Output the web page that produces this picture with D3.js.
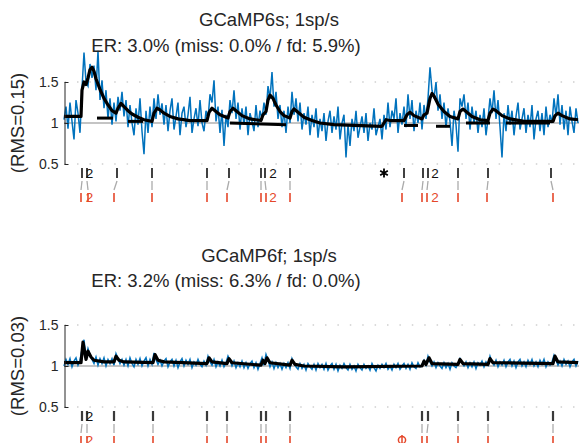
<!DOCTYPE html>
<html>
<head>
<meta charset="utf-8">
<script src="https://cdn.jsdelivr.net/npm/d3@7"></script>
<style>
  body { margin: 0; background: #fff; }
  text { font-family: "Liberation Sans", Arial, sans-serif; fill: #262626; }
</style>
</head>
<body>
<div id="chart"></div>
<script>
var width = 579, height = 443;

// frames (2 px each), 0..257
var traceS = [
  1.04, 1.20, 0.93, 1.25, 1.02, 0.80, 1.28, 1.12, 0.88, 1.42,
  1.86, 1.50, 1.45, 1.72, 1.55, 1.70, 1.40, 1.88, 1.28, 1.52,
  1.18, 1.40, 1.05, 1.30, 0.98, 1.25, 1.02, 1.32, 1.15, 1.38,
  1.08, 1.28, 0.95, 1.22, 1.00, 0.85, 1.18, 0.98, 1.30, 0.90,
  0.62, 1.15, 0.88, 1.20, 0.95, 1.30, 1.05, 1.35, 1.10, 1.24,
  0.98, 1.22, 0.90, 1.15, 1.30, 0.92, 1.08, 1.25, 0.85, 1.12,
  1.20, 0.95, 1.10, 1.32, 0.88, 1.05, 1.18, 0.96, 1.28, 1.00,
  0.90, 1.15, 1.05, 1.35, 1.25, 1.52, 1.02, 1.20, 0.88, 1.16,
  0.72, 1.10, 0.95, 1.28, 1.12, 1.40, 1.05, 1.25, 0.92, 1.18,
  0.98, 1.20, 0.85, 1.12, 1.02, 0.90, 1.22, 0.95, 1.15, 1.05,
  1.25, 1.10, 1.45, 1.30, 1.62, 1.20, 1.38, 1.05, 1.22, 0.95,
  1.15, 0.88, 1.20, 1.00, 1.38, 1.10, 1.30, 1.02, 1.25, 0.92,
  1.12, 0.98, 1.20, 0.85, 1.10, 0.95, 1.18, 0.82, 1.05, 0.90,
  1.12, 0.78, 1.02, 1.15, 0.88, 1.08, 0.92, 1.20, 0.80, 1.00,
  1.10, 0.58, 0.98, 0.72, 1.05, 0.90, 1.15, 0.82, 0.95, 1.08,
  0.88, 1.12, 0.78, 1.00, 0.92, 1.18, 0.85, 0.95, 1.05, 0.80,
  1.10, 0.92, 1.25, 0.95, 1.15, 1.05, 1.30, 0.88, 1.12, 0.98,
  1.20, 0.95, 1.35, 1.05, 1.28, 0.90, 1.15, 1.00, 1.25, 0.92,
  1.22, 1.05, 1.30, 1.68, 1.40, 1.30, 1.50, 1.15, 1.35, 1.05,
  1.25, 0.95, 1.18, 1.02, 0.72, 1.15, 0.98, 0.65, 1.30, 1.20,
  1.35, 1.05, 1.25, 0.92, 1.20, 1.00, 1.15, 0.88, 1.10, 0.95,
  1.18, 0.85, 1.05, 1.30, 1.12, 1.40, 1.05, 1.28, 0.95, 0.58,
  1.12, 0.90, 1.22, 0.98, 1.15, 0.85, 1.08, 1.25, 0.92, 1.05,
  1.18, 0.88, 1.10, 0.95, 1.22, 0.80, 1.05, 1.15, 0.90, 1.12,
  0.85, 1.20, 0.95, 1.10, 1.00, 1.30, 1.08, 1.35, 0.98, 1.22,
  0.92, 1.15, 0.85, 1.20, 1.02, 0.88, 1.18, 1.00
];

var fitS = [
  [0,1.08],[8.5,1.08],[9,1.40],[10,1.50],[11,1.47],[12,1.55],[13,1.65],[14,1.68],[15,1.63],
  [16,1.54],[18,1.41],[20,1.30],[22,1.22],[24,1.15],[26,1.12],[27,1.18],[28.5,1.24],[30,1.20],
  [32,1.15],[34,1.11],[37,1.07],[40,1.04],[44,1.02],[45,1.12],[46.5,1.18],[48,1.16],[50,1.12],
  [53,1.08],[57,1.05],[63,1.03],[71.5,1.03],[72.5,1.13],[74,1.18],[75.5,1.15],[78,1.10],
  [82,1.06],[83,1.14],[84.5,1.18],[86,1.15],[89,1.09],[93,1.05],[98.5,1.03],[99.5,1.10],
  [101,1.14],[102,1.28],[103,1.34],[104.5,1.30],[106,1.22],[108,1.14],[110,1.09],[113,1.06],
  [114,1.14],[115,1.17],[117,1.13],[120,1.07],[124,1.03],[128,1.00],[135,0.98],[159,0.96],
  [161,1.04],[163,1.03],[170,1.03],[171.5,1.10],[173,1.13],[175,1.09],[179,1.05],[180,1.10],
  [181.5,1.12],[183,1.30],[184,1.36],[185,1.33],[187,1.23],[190,1.14],[193,1.08],[197,1.05],
  [198,1.14],[199.5,1.17],[201,1.14],[204,1.08],[208,1.04],[212,1.03],[213,1.12],[214.5,1.17],
  [216,1.15],[219,1.09],[223,1.05],[230,1.02],[244.5,1.02],[245.5,1.09],[247,1.12],[249,1.09],
  [253,1.05],[257,1.04]
];

var fitSegsS = [
  [[16.5,1.06],[24.5,1.06]],
  [[32,1.02],[39.5,1.02]],
  [[83,1.00],[111,0.98]],
  [[170,0.97],[177,0.97]],
  [[186,0.96],[193,0.96]],
  [[201,1.00],[213,1.00]],
  [[221,1.00],[243,1.00]]
];

var detS = [9, 11.5, 26.5, 44, 71.5, 82.5, 98.5, 100.5, 113, 170, 179.5, 182, 197, 212, 243.5];
var truthS = [8.5, 12, 25, 44, 71.5, 81.5, 98.5, 101, 113, 169, 179, 181.5, 197, 211.5, 244.5];
var falseS = [160];
var missS = [];
var labelsDetS = [12.8, 104.5, 185.5];
var labelsTruthS = [12.8, 104.5, 185.5];

var traceF = [
  1.00, 1.08, 1.02, 1.09, 0.99, 1.06, 1.10, 1.01, 1.07, 1.20,
  1.32, 1.10, 1.21, 1.13, 1.08, 1.03, 1.11, 1.01, 1.09, 1.03,
  1.10, 1.00, 1.08, 1.03, 1.09, 1.01, 1.15, 1.09, 1.03, 1.08,
  1.01, 1.08, 1.00, 1.10, 1.03, 0.99, 1.08, 1.02, 1.09, 1.00,
  1.06, 1.10, 1.00, 1.08, 1.02, 1.16, 1.08, 1.02, 1.07, 1.00,
  1.06, 1.09, 0.99, 1.05, 1.08, 1.00, 1.07, 0.98, 1.05, 1.09,
  1.00, 1.07, 1.02, 1.08, 0.98, 1.05, 1.01, 1.08, 1.02, 0.99,
  1.06, 1.01, 1.12, 1.05, 1.01, 1.08, 0.99, 1.05, 1.00, 1.07,
  0.99, 1.04, 1.12, 1.07, 1.00, 1.06, 0.98, 1.04, 0.99, 1.06,
  0.98, 1.04, 0.97, 1.03, 1.06, 0.98, 1.04, 0.96, 1.03, 1.10,
  1.01, 1.14, 1.07, 0.99, 1.05, 0.97, 1.04, 0.98, 1.03, 0.96,
  1.03, 0.98, 1.04, 0.97, 1.09, 1.03, 0.99, 0.96, 1.03, 0.97,
  1.02, 0.95, 1.03, 0.99, 0.96, 1.02, 0.95, 1.03, 0.98, 1.02,
  0.96, 1.03, 0.95, 1.00, 1.03, 0.96, 1.02, 0.94, 1.01, 0.97,
  1.03, 0.98, 0.95, 1.02, 0.96, 1.00, 0.94, 1.02, 0.98, 0.95,
  1.02, 0.97, 1.00, 0.95, 1.03, 0.98, 0.94, 1.01, 0.97, 1.02,
  0.98, 1.03, 0.96, 1.00, 0.95, 1.02, 0.98, 1.03, 0.96, 1.00,
  1.03, 0.97, 1.02, 0.96, 1.04, 0.99, 0.97, 1.04, 0.99, 1.02,
  1.07, 1.01, 1.12, 1.05, 1.00, 1.05, 0.98, 1.04, 1.00, 0.97,
  1.04, 0.98, 1.03, 0.96, 1.04, 1.00, 0.98, 1.03, 1.09, 1.04,
  1.00, 1.05, 0.98, 1.04, 0.99, 1.05, 0.97, 1.04, 1.01, 1.06,
  0.99, 1.05, 1.01, 1.12, 1.05, 1.01, 1.07, 0.99, 1.05, 1.01,
  1.07, 0.99, 1.05, 1.08, 1.00, 1.06, 0.98, 1.05, 1.08, 1.00,
  1.05, 0.99, 1.07, 1.02, 1.08, 1.00, 1.05, 0.99, 1.07, 1.02,
  1.08, 0.99, 1.05, 1.01, 1.05, 1.13, 1.07, 1.01, 1.06, 1.00,
  1.08, 1.02, 1.06, 0.99, 1.05, 1.08, 1.00, 1.06
];

var fitF = [
  [0,1.04],[8.5,1.04],[9.5,1.29],[11,1.08],[12,1.18],[13.5,1.11],[15,1.07],[20,1.05],[25,1.05],
  [26,1.12],[27.5,1.07],[30,1.05],[44.5,1.04],[45.5,1.14],[47,1.07],[50,1.05],[71.5,1.03],
  [72.5,1.10],[74,1.05],[81.5,1.03],[82.5,1.09],[84,1.04],[98.5,1.01],[99.5,1.07],[100.5,1.03],
  [101.5,1.10],[103,1.04],[113,1.01],[114,1.07],[115.5,1.02],[120,1.00],[140,0.99],[179,1.00],
  [180,1.06],[181,1.02],[182.5,1.10],[184,1.03],[197,1.02],[198,1.08],[199.5,1.03],[212,1.02],
  [213,1.09],[214.5,1.04],[244.5,1.03],[245.5,1.12],[247,1.05],[257,1.04]
];

var detF = [9, 11.5, 25, 44.5, 71.5, 81.5, 98.5, 101, 113, 179, 182, 197, 212, 244.5];
var truthF = [8.5, 11.5, 25, 44.5, 71.5, 81.5, 98.5, 101, 113, 179, 181.5, 197, 212, 244.5];
var falseF = [];
var missF = [169];
var labelsDetF = [12.8];
var labelsTruthF = [12.8];

var panels = [
  {title: "GCaMP6s; 1sp/s", er: "ER: 3.0% (miss: 0.0% / fd: 5.9%)", rms: "(RMS=0.15)",
   base: 164, titleY: 26, erY: 52, trace: traceS, fit: fitS, segs: fitSegsS,
   det: detS, truth: truthS, fd: falseS, miss: missS, ldet: labelsDetS, ltruth: labelsTruthS,
   detColor: "#111", detWidth: 1.6},
  {title: "GCaMP6f; 1sp/s", er: "ER: 3.2% (miss: 6.3% / fd: 0.0%)", rms: "(RMS=0.03)",
   base: 407, titleY: 262, erY: 287, trace: traceF, fit: fitF, segs: [],
   det: detF, truth: truthF, fd: falseF, miss: missF, ldet: labelsDetF, ltruth: labelsTruthF,
   detColor: "#3a3a3a", detWidth: 2.2}
];

var red = "#e5472a";

var svg = d3.select("#chart").append("svg")
    .attr("width", width)
    .attr("height", height);

var x = d3.scaleLinear().domain([0, 258]).range([64, 580]);

panels.forEach(function (p) {
    var g = svg.append("g");
    var y = d3.scaleLinear().domain([0.5, 1.5]).range([p.base, p.base - 82]);

    // dotted lines at top and bottom of axis
    g.selectAll("line.grid")
        .data([0.5, 1.5])
        .enter().append("line")
        .attr("x1", 64).attr("x2", 580)
        .attr("y1", function (d) { return y(d); })
        .attr("y2", function (d) { return y(d); })
        .attr("stroke", "#b8b8b8")
        .attr("stroke-width", 1.2)
        .attr("stroke-dasharray", "1.5,10.9")
        .attr("stroke-dashoffset", 11.8);

    // reference at 1
    g.append("line")
        .attr("x1", 64).attr("x2", 580)
        .attr("y1", y(1)).attr("y2", y(1))
        .attr("stroke", "#c4c4c4")
        .attr("stroke-width", 2);

    var traceLine = d3.line()
        .x(function (d, i) { return x(i); })
        .y(function (d) { return y(d); });

    g.append("path")
        .datum(p.trace)
        .attr("d", traceLine)
        .attr("fill", "none")
        .attr("stroke", "#0072BD")
        .attr("stroke-width", 1.5);

    var fitLine = d3.line()
        .x(function (d) { return x(d[0]); })
        .y(function (d) { return y(d[1]); });

    g.selectAll("path.seg")
        .data(p.segs)
        .enter().append("path")
        .attr("d", fitLine)
        .attr("fill", "none")
        .attr("stroke", "#000")
        .attr("stroke-width", 3);

    g.append("path")
        .datum(p.fit)
        .attr("d", fitLine)
        .attr("fill", "none")
        .attr("stroke", "#000")
        .attr("stroke-width", 3.2)
        .attr("stroke-linejoin", "round");

    // y axis
    var axis = g.append("g")
        .attr("transform", "translate(64.5,0)")
        .call(d3.axisLeft(y)
            .tickValues([0.5, 1, 1.5])
            .tickFormat(d3.format(""))
            .tickSizeInner(-4)
            .tickSizeOuter(0)
            .tickPadding(6));
    axis.select(".domain").attr("stroke", "#262626");
    axis.selectAll(".tick line").attr("stroke", "#262626");
    axis.selectAll(".tick text")
        .attr("font-size", 14)
        .attr("fill", "#262626")
        .style("font-family", "Liberation Sans, Arial, sans-serif");

    // labels
    g.append("text")
        .attr("transform", "translate(24," + y(1) + ") rotate(-90)")
        .attr("text-anchor", "middle")
        .attr("font-size", 18.5)
        .text(p.rms);
    g.append("text")
        .attr("x", 269).attr("y", p.titleY)
        .attr("text-anchor", "middle")
        .attr("font-size", 18.5)
        .text(p.title);
    g.append("text")
        .attr("x", 226).attr("y", p.erY)
        .attr("text-anchor", "middle")
        .attr("font-size", 18.5)
        .text(p.er);

    // spike rows
    var b = p.base;
    g.selectAll("line.det")
        .data(p.det)
        .enter().append("line")
        .attr("x1", function (d) { return x(d); })
        .attr("x2", function (d) { return x(d); })
        .attr("y1", b + 4).attr("y2", b + 14)
        .attr("stroke", p.detColor)
        .attr("stroke-width", p.detWidth);

    g.selectAll("line.match")
        .data(p.det.map(function (d, i) { return [d, p.truth[i]]; }))
        .enter().append("line")
        .attr("x1", function (d) { return x(d[0]); })
        .attr("x2", function (d) { return x(d[1]); })
        .attr("y1", b + 17).attr("y2", b + 26)
        .attr("stroke", "#ababab")
        .attr("stroke-width", 1.3);

    g.selectAll("line.truth")
        .data(p.truth)
        .enter().append("line")
        .attr("x1", function (d) { return x(d); })
        .attr("x2", function (d) { return x(d); })
        .attr("y1", b + 29).attr("y2", b + 38)
        .attr("stroke", red)
        .attr("stroke-width", 1.6);

    g.selectAll("text.ldet")
        .data(p.ldet)
        .enter().append("text")
        .attr("x", function (d) { return x(d); })
        .attr("y", b + 14)
        .attr("text-anchor", "middle")
        .attr("font-size", 13.5)
        .style("fill", "#111")
        .text("2");

    g.selectAll("text.ltruth")
        .data(p.ltruth)
        .enter().append("text")
        .attr("x", function (d) { return x(d); })
        .attr("y", b + 38)
        .attr("text-anchor", "middle")
        .attr("font-size", 13.5)
        .style("fill", red)
        .text("2");

    var star = d3.symbol().type(d3.symbolAsterisk || d3.symbolCross).size(55);
    g.selectAll("path.fd")
        .data(p.fd)
        .enter().append("path")
        .attr("transform", function (d) { return "translate(" + x(d) + "," + (b + 9) + ")"; })
        .attr("d", star)
        .attr("fill", "none")
        .attr("stroke", "#000")
        .attr("stroke-width", 1.8);

    var m = g.selectAll("g.miss")
        .data(p.miss)
        .enter().append("g")
        .attr("transform", function (d) { return "translate(" + x(d) + "," + (b + 33) + ")"; });
    m.append("circle")
        .attr("r", 3.6)
        .attr("fill", "none")
        .attr("stroke", red)
        .attr("stroke-width", 1.5);
    m.append("line")
        .attr("y1", -5).attr("y2", 5)
        .attr("stroke", red)
        .attr("stroke-width", 1.5);
});
</script>
</body>
</html>
